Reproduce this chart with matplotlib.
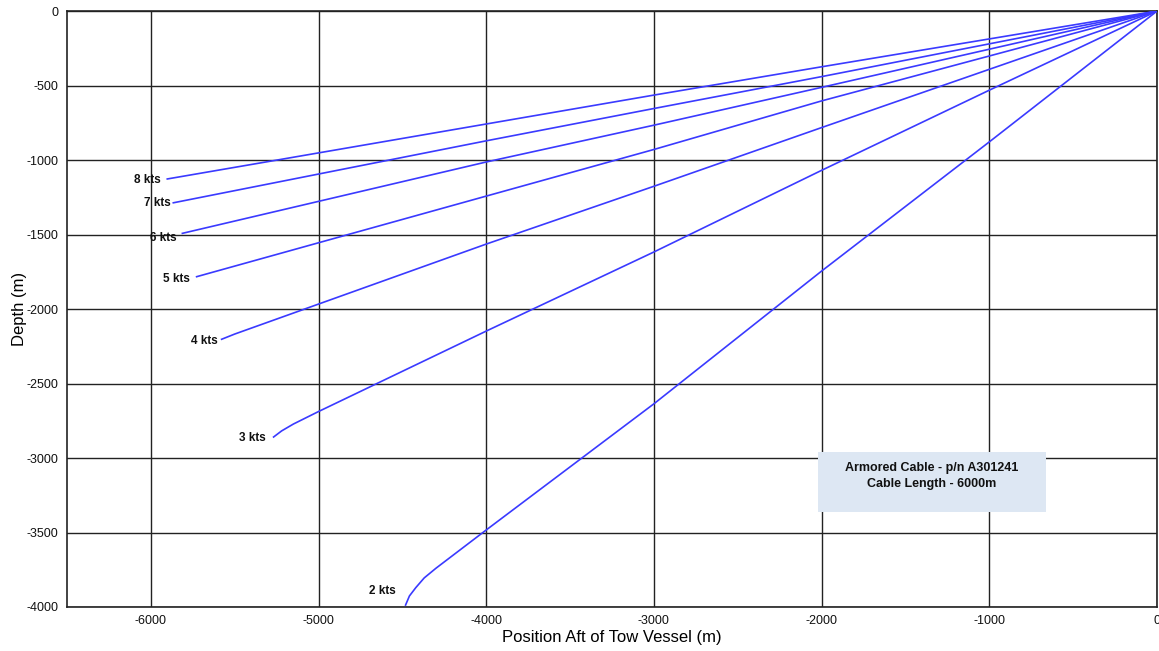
import numpy as np
import matplotlib
matplotlib.use("Agg")
import matplotlib.pyplot as plt
from matplotlib.patches import Rectangle

plt.rcParams['font.family'] = ['Liberation Sans', 'DejaVu Sans']
plt.rcParams['axes.unicode_minus'] = False

# cable shapes: position aft (m) and depth (m)
speeds = ['8 kts', '7 kts', '6 kts', '5 kts', '4 kts', '3 kts', '2 kts']
pos_8 = [0, -2000, -3000, -4000, -5902]
dep_8 = [0, -374, -564, -758, -1127]
pos_7 = [0, -2000, -3000, -4000, -5866]
dep_7 = [0, -440, -654, -871, -1287]
pos_6 = [0, -2000, -3000, -4000, -5812]
dep_6 = [0, -512, -766, -1013, -1492]
pos_5 = [0, -2000, -3000, -4000, -5727]
dep_5 = [0, -603, -929, -1242, -1783]
pos_4 = [0, -2000, -3000, -4000, -5500, -5578]
dep_4 = [0, -782, -1176, -1564, -2168, -2203]
pos_3 = [0, -1000, -2000, -3000, -4000, -5000, -5150, -5220, -5268]
dep_3 = [0, -531, -1069, -1617, -2148, -2688, -2772, -2818, -2859]
pos_2 = [0, -1000, -2000, -3000, -4000, -4300, -4370, -4420, -4458, -4481]
dep_2 = [0, -878, -1745, -2636, -3483, -3740, -3805, -3870, -3926, -3987]

xs = [pos_8, pos_7, pos_6, pos_5, pos_4, pos_3, pos_2]
ys = [dep_8, dep_7, dep_6, dep_5, dep_4, dep_3, dep_2]
# label offsets from the cable end, in points
label_off = [(-5, -1), (-2, 0), (-4, -3), (-5, -2), (-3, -1), (-6, -1), (-7, 10)]

fig = plt.figure(figsize=(11.59, 6.51), dpi=100)
ax = fig.add_axes([0.0578, 0.0676, 0.9405, 0.9154])

for i in range(len(speeds)):
    ax.plot(xs[i], ys[i], color='#3a3aff', lw=1.2, zorder=3)
    ax.annotate(speeds[i], (xs[i][-1], ys[i][-1]), xytext=label_off[i],
                textcoords='offset points', ha='right', va='center',
                fontsize=8.5, fontweight='bold', color='#111111', zorder=4)

ax.set_xlim(-6500, 0)
ax.set_ylim(-4000, 0)
ax.set_xticks(np.arange(-6000, 1, 1000))
ax.set_yticks(np.arange(-4000, 1, 500))
ax.grid(True, color='#222222', lw=1.0, zorder=1)
ax.tick_params(length=0, labelsize=9, colors='#111111', pad=6)
for s in ax.spines.values():
    s.set_color('#222222')
    s.set_linewidth(1.2)

ax.set_xlabel('Position Aft of Tow Vessel (m)', fontsize=12, labelpad=2)
ax.set_ylabel('Depth (m)', fontsize=12, labelpad=0)

ax.add_patch(Rectangle((0.689, 0.1594), 0.209, 0.1006, transform=ax.transAxes,
                       facecolor='#dde7f3', edgecolor='none', zorder=5))
ax.text(0.7936, 0.2198, 'Armored Cable - p/n A301241\nCable Length - 6000m',
        transform=ax.transAxes, ha='center', va='center', fontsize=9,
        fontweight='bold', color='#111111', linespacing=1.55, zorder=6)

fig.savefig('out.png', dpi=100)
